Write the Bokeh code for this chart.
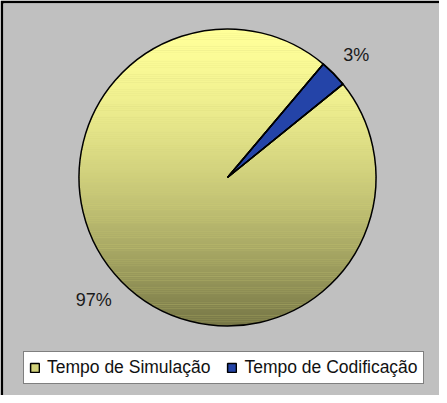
import numpy as np
from bokeh.plotting import figure
from bokeh.models import ColumnDataSource, Range1d, Legend, LegendItem, CDSView, IndexFilter
from bokeh.core.properties import value
from bokeh.embed import file_html
from bokeh.resources import INLINE

# ---- data ----
categories = ["Tempo de Simulação", "Tempo de Codificação"]
values = [97, 3]
labels = ["97%", "3%"]
legend_colors = ["#D2D27A", "#2444A8"]

# ---- layout constants ----
W, H = 439, 395
BORDER = 3
FRAME_W, FRAME_H = W - BORDER, H - BORDER
R_PX = 148.5
CX_PX, CY_PX = 235 - 8 - BORDER, 185 - 8 - BORDER   # centre in frame pixels (from top-left)
FIRST_ANGLE = np.deg2rad(39.0)                     # Excel first-slice rotation (math angle)
FONT = "Liberation Sans"

x0 = -CX_PX / R_PX
x1 = (FRAME_W - CX_PX) / R_PX
y1 = CY_PX / R_PX
y0 = -(FRAME_H - CY_PX) / R_PX

vals = np.array(values, dtype=float)
frac = vals / vals.sum()
cum_end = np.cumsum(frac) * 2 * np.pi
cum_start = cum_end - frac * 2 * np.pi
start = FIRST_ANGLE - cum_end
end = FIRST_ANGLE - cum_start
mid = (start + end) / 2

src = ColumnDataSource(dict(category=categories, value=values, start=start, end=end,
                            color=legend_colors))

p = figure(width=W, height=H, x_range=Range1d(x0, x1), y_range=Range1d(y0, y1),
           output_backend="svg", toolbar_location=None,
           x_axis_location=None, y_axis_location=None,
           min_border_left=BORDER, min_border_top=BORDER,
           min_border_right=0, min_border_bottom=0)
p.border_fill_color = "black"
p.background_fill_color = "#C0C0C0"
p.outline_line_color = None
p.grid.visible = False

# legend-carrying wedges (covered by the gradient below)
wr = p.wedge(x=0, y=0, radius=1, start_angle="start", end_angle="end", source=src,
             fill_color="color", line_color="black", line_width=1.5)

# vertical gradient for the large slice
n = 160
ys = np.linspace(1, -1, n)
t = (1 - ys) / 2
g = t ** 1.5
top = np.array([255, 255, 153])
bot = np.array([118, 118, 70])
cols = ["#%02x%02x%02x" % tuple(int(round(c)) for c in (top + (bot - top) * gi)) for gi in g]
p.hbar(y=ys, left=-1.01, right=1.01, height=2.0 / (n - 1) * 1.1, fill_color=cols,
       line_color=None)
# mask outside the disc
p.annulus(x=0, y=0, inner_radius=1.0, outer_radius=4.0, fill_color="#C0C0C0", line_color=None)

# blue slice on top
p.wedge(x=0, y=0, radius=1, start_angle="start", end_angle="end", source=src,
        view=CDSView(filter=IndexFilter([1])), fill_color="#2444A8", line_color="black",
        line_width=1.5)
# outlines
p.wedge(x=0, y=0, radius=1, start_angle="start", end_angle="end", source=src,
        fill_color=None, line_color="black", line_width=1.5)

# labels
fs = 18
lw = [fs * (0.556 * (len(s) - 1) + 0.889) for s in labels]
lx = np.cos(mid) * 1.09
ly = np.sin(mid) * 1.09
xo = [np.sign(np.cos(m)) * w / 2 for m, w in zip(mid, lw)]
yo = [-np.sign(np.sin(m)) * 9 for m in mid]
lsrc = ColumnDataSource(dict(x=lx, y=ly, text=labels, xo=xo, yo=yo))
p.text(x="x", y="y", text="text", x_offset="xo", y_offset="yo", source=lsrc,
       text_font=value(FONT), text_font_size=f"{fs}px", text_color="#1a1a1a",
       text_align="center", text_baseline="middle")

legend = Legend(items=[LegendItem(label=c, renderers=[wr], index=i) for i, c in enumerate(categories)],
                location=(20, 11), orientation="horizontal",
                label_text_font=FONT, label_text_font_size="17.5px", label_text_color="#111111",
                glyph_width=11, glyph_height=11, label_standoff=7, spacing=16,
                padding=5, margin=0, border_line_color="black", border_line_width=1,
                background_fill_color="white", background_fill_alpha=1.0)
p.add_layout(legend)

open("out.html", "w").write(file_html(p, INLINE))
